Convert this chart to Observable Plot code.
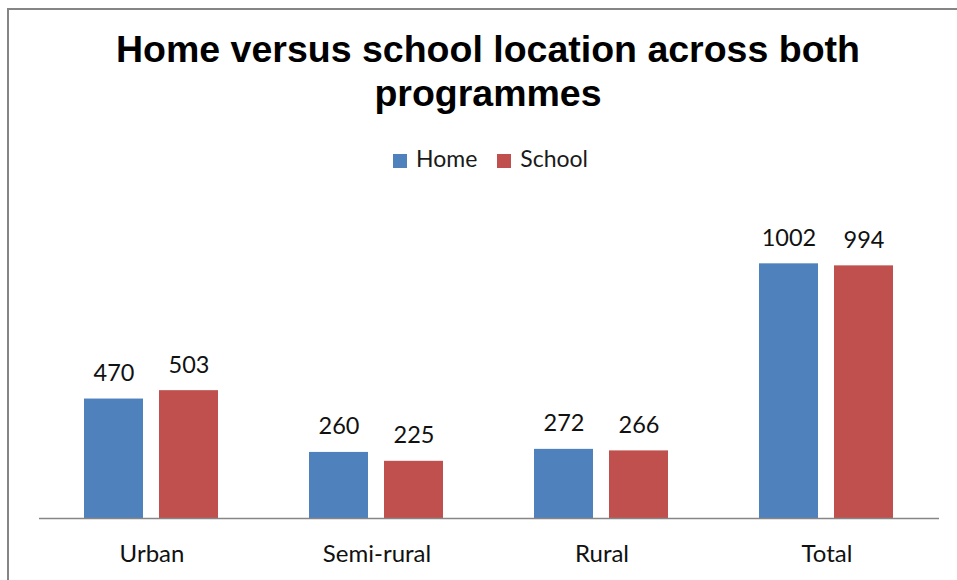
<!DOCTYPE html>
<html>
<head>
<meta charset="utf-8">
<script src="https://cdn.jsdelivr.net/npm/d3@7"></script>
<script src="https://cdn.jsdelivr.net/npm/@observablehq/plot@0.6"></script>
<style>
  html, body { margin: 0; padding: 0; background: #fff; width: 957px; height: 580px; overflow: hidden; }
  #frame { position: absolute; left: 7px; top: 8px; width: 1100px; height: 700px;
           border-left: 2px solid #858585; border-top: 2px solid #858585; box-sizing: border-box; }
  #title { position: absolute; left: 0; top: 27px; width: 976px; text-align: center;
           font-family: "Liberation Sans", Arial, sans-serif; font-weight: bold; font-size: 37.5px;
           line-height: 44px; color: #000; }
  #legend { position: absolute; left: 393px; top: 145px; font-family: Lato, sans-serif; font-size: 23px;
            line-height: 26px; color: #1a1a1a; white-space: nowrap; }
  #legend .sw { display: inline-block; width: 14px; height: 14px; margin-right: 9px; vertical-align: -1px; }
  #legend .item { display: inline-block; margin-right: 20px; }
  #chart { position: absolute; left: 0; top: 200px; }
</style>
</head>
<body>
<div id="frame"></div>
<div id="title">Home versus school location across both<br>programmes</div>
<div id="legend"></div>
<div id="chart"></div>
<script>
const categories = ["Urban", "Semi-rural", "Rural", "Total"];
const series = ["Home", "School"];
const homeValues = [470, 260, 272, 1002];
const schoolValues = [503, 225, 266, 994];
const colors = ["#4F81BD", "#C0504D"];

const data = [];
categories.forEach((c, i) => {
  data.push({category: c, series: "Home", value: homeValues[i]});
  data.push({category: c, series: "School", value: schoolValues[i]});
});

const legend = document.getElementById("legend");
series.forEach((s, i) => {
  const item = document.createElement("span");
  item.className = "item";
  const sw = document.createElement("span");
  sw.className = "sw";
  sw.style.background = colors[i];
  item.appendChild(sw);
  item.appendChild(document.createTextNode(s));
  legend.appendChild(item);
});

const chart = Plot.plot({
  width: 957,
  height: 380,
  marginLeft: 37,
  marginRight: 17,
  marginTop: 13,
  marginBottom: 62,
  style: {fontFamily: "Lato, sans-serif", fontSize: "24px", color: "#111", background: "transparent", overflow: "visible"},
  fx: {domain: categories, padding: 0, axis: "bottom", tickSize: 0, tickPadding: 26, label: null},
  x: {domain: series, axis: null, paddingInner: 0.2105, paddingOuter: 0.59},
  y: {domain: [0, 1200], axis: null},
  color: {domain: series, range: colors},
  marks: [
    Plot.barY(data, {fx: "category", x: "series", y: "value", fill: "series"}),
    Plot.ruleY([0], {stroke: "#868686", strokeWidth: 1.5}),
    Plot.text(data, {fx: "category", x: "series", y: "value", text: d => String(d.value),
      lineAnchor: "bottom", dy: -18, fill: "#111", fontSize: 23.5})
  ]
});
document.getElementById("chart").appendChild(chart);
</script>
</body>
</html>
